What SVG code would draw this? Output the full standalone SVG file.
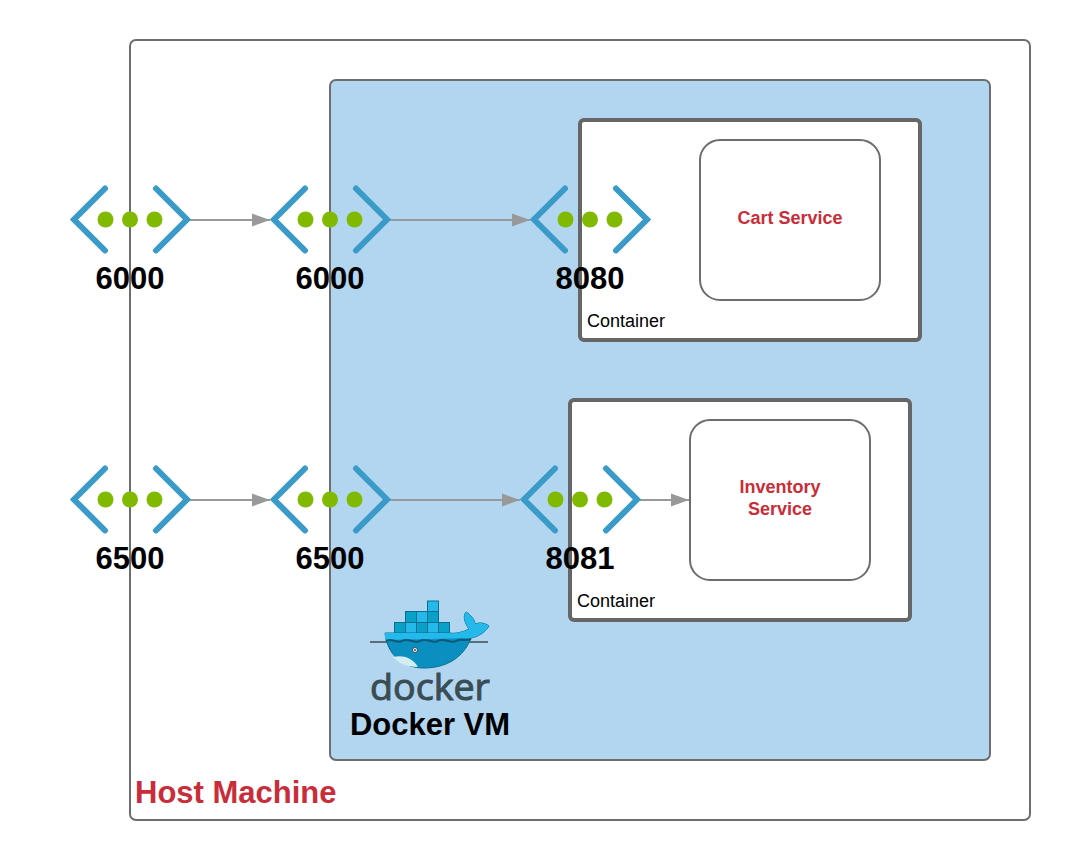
<svg xmlns="http://www.w3.org/2000/svg" width="1070" height="860" viewBox="0 0 1070 860">
<style>
text{font-family:"Liberation Sans",Arial,sans-serif}
.port{font-size:31px;font-weight:700;fill:#000;text-anchor:middle}
.svc{font-size:18px;font-weight:700;fill:#c92d39;text-anchor:middle}
.ct{font-size:18px;fill:#000}
.cbox{fill:#fff;stroke:#666;stroke-width:4}
.sbox{fill:#fff;stroke:#6d6d6d;stroke-width:2}
.chev{fill:none;stroke:#3a9bc9;stroke-width:6;stroke-linecap:round;stroke-linejoin:miter}
.dot{fill:#7fba00}
.conn{fill:none;stroke:#999;stroke-width:2;marker-end:url(#arr)}
.cube{stroke:#0a6f8f;stroke-width:1}
</style>
<defs>
<marker id="arr" markerUnits="userSpaceOnUse" markerWidth="19" markerHeight="14" refX="18" refY="7" orient="auto"><path d="M0 0.500 L18 7 L0 13.500 Z" fill="#999"/></marker>
<g id="ep">
<path class="chev" d="M-25 -31 L-56 0 L-25 31"/>
<path class="chev" d="M26 -31 L57 0 L26 31"/>
<circle class="dot" cx="-24.500" cy="0" r="8"/>
<circle class="dot" cx="0" cy="0" r="8"/>
<circle class="dot" cx="24.500" cy="0" r="8"/>
</g>
</defs>
<rect width="1070" height="860" fill="#fff"/>
<g id="host">
<rect x="130" y="40" width="900" height="780" rx="6" fill="#fff" stroke="#6d6d6d" stroke-width="2"/>
<text x="135" y="803" font-size="31" font-weight="700" fill="#c92d39">Host Machine</text>
</g>
<g id="docker-vm">
<rect x="330" y="80" width="660" height="680" rx="6" fill="#b2d5f0" stroke="#6d6d6d" stroke-width="2"/>
<text x="430" y="735" font-size="31" font-weight="700" fill="#000" text-anchor="middle">Docker VM</text>
</g>
<g id="docker-logo">
<g class="cube" fill="#24b8eb">
<rect x="394.500" y="622.500" width="11" height="11" fill="#0aa1c9"/>
<rect x="405.500" y="622.500" width="11" height="11"/>
<rect x="416.500" y="622.500" width="11" height="11" fill="#0aa1c9"/>
<rect x="427.500" y="622.500" width="11" height="11"/>
<rect x="438.500" y="622.500" width="11" height="11" fill="#0aa1c9"/>
<rect x="405.500" y="611.500" width="11" height="11" fill="#0aa1c9"/>
<rect x="416.500" y="611.500" width="11" height="11"/>
<rect x="427.500" y="611.500" width="11" height="11" fill="#0aa1c9"/>
<rect x="427.500" y="601" width="11" height="10.500"/>
</g>
<path d="M370 642 L488 642" stroke="#3a4d54" stroke-width="1.500" fill="none"/>
<path d="M385 633 L449 633 C456 634 463 632 469 629 C464 622 463 616 466 612 C471 615 475 620 475 624 C480 622 485 623 489 626 C485 633 477 637 471 638 C466 652 452 668 424 668 C402 668 387 654 385 633 Z" fill="#0a8fc0" stroke="#0a6f8f" stroke-width="1"/>
<path d="M385 633 L449 633 C456 634 463 632 469 629 C464 622 463 616 466 612 C471 615 475 620 475 624 C480 622 485 623 489 626 C485 633 477 637 471 638 L385 640 Z" fill="#24b8eb"/>
<path d="M386 641 C392 637 396 644 402 641 C408 637 414 644 420 641 C426 637 432 644 438 641 C444 637 450 644 456 641 C462 638 466 642 471 639" fill="none" stroke="#0a5a78" stroke-width="2"/>
<path d="M393 657 C402 655 412 657 418 667 C406 667 398 663 393 657 Z" fill="#d4edf1"/>
<circle cx="415" cy="650" r="2.500" fill="#fff" stroke="#3a4d54" stroke-width="1"/>
<circle cx="415" cy="650" r="1" fill="#3a4d54"/>
<text x="370" y="700" font-size="37" textLength="120" lengthAdjust="spacingAndGlyphs" fill="#3a4d54" stroke="#3a4d54" stroke-width="1" style="font-family:'Open Sans','Liberation Sans',sans-serif">docker</text>
</g>
<g id="cart-container">
<rect class="cbox" x="580" y="120" width="340" height="220" rx="4"/>
<text class="ct" x="587" y="327">Container</text>
</g>
<g id="cart-service">
<rect class="sbox" x="700" y="140" width="180" height="160" rx="20"/>
<text class="svc" x="790" y="224">Cart Service</text>
</g>
<g id="inventory-container">
<rect class="cbox" x="570" y="400" width="340" height="220" rx="4"/>
<text class="ct" x="577" y="607">Container</text>
</g>
<g id="inventory-service">
<rect class="sbox" x="690" y="420" width="180" height="160" rx="20"/>
<text class="svc" x="780" y="493">Inventory</text>
<text class="svc" x="780" y="515">Service</text>
</g>
<g id="connectors">
<path class="conn" d="M187 220 L270 220"/>
<path class="conn" d="M387 220 L530 220"/>
<path class="conn" d="M187 500 L270 500"/>
<path class="conn" d="M387 500 L520 500"/>
<path class="conn" d="M637 500 L689 500"/>
</g>
<g id="port-host-6000"><use href="#ep" x="130" y="219.500"/><text class="port" x="130" y="289">6000</text></g>
<g id="port-vm-6000"><use href="#ep" x="330" y="219.500"/><text class="port" x="330" y="289">6000</text></g>
<g id="port-8080"><use href="#ep" x="590" y="219.500"/><text class="port" x="590" y="289">8080</text></g>
<g id="port-host-6500"><use href="#ep" x="130" y="499.500"/><text class="port" x="130" y="569">6500</text></g>
<g id="port-vm-6500"><use href="#ep" x="330" y="499.500"/><text class="port" x="330" y="569">6500</text></g>
<g id="port-8081"><use href="#ep" x="580" y="499.500"/><text class="port" x="580" y="569">8081</text></g>
</svg>
